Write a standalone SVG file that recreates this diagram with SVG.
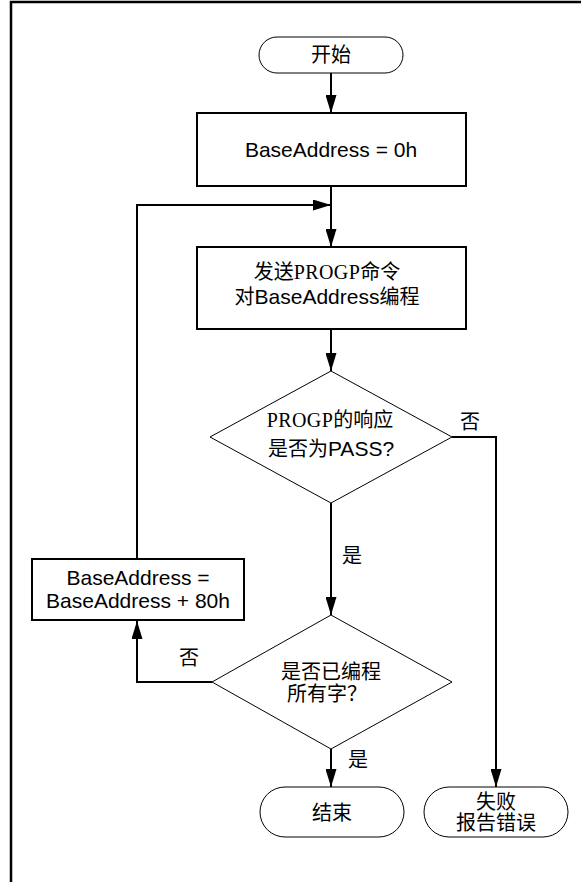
<svg xmlns="http://www.w3.org/2000/svg" width="581" height="882" viewBox="0 0 581 882">
  <style>
    .frame { fill: none; stroke: #000; stroke-width: 2.5; }
    .box { fill: #fff; stroke: #000; stroke-width: 2; }
    .thin { fill: #fff; stroke: #000; stroke-width: 1; }
    .wire { fill: none; stroke: #000; stroke-width: 2; }
    text { fill: #000; text-anchor: middle; }
    .cjk { font-family: "Noto Sans CJK SC", sans-serif; font-size: 20px; }
    .lat { font-family: "Liberation Sans", Arial, "Noto Sans CJK SC", sans-serif; font-size: 21px; }
    .ser { font-family: "Liberation Serif", "Times New Roman", serif; font-size: 20px; letter-spacing: 0.4px; }
  </style>
  <defs>
    <marker id="arrow" markerUnits="userSpaceOnUse" markerWidth="18" markerHeight="11" refX="18" refY="5.5" orient="auto">
      <path d="M0,0 L18,5.5 L0,11 Z" fill="#000"/>
    </marker>
  </defs>

  <!-- page frame: left and top edges, cut off at the right and bottom -->
  <path class="frame" d="M11,882 V2 H581"/>

  <!-- connectors -->
  <g id="connectors">
    <line class="wire" x1="331" y1="73" x2="331" y2="113" marker-end="url(#arrow)"/>
    <line class="wire" x1="331" y1="186" x2="331" y2="247" marker-end="url(#arrow)"/>
    <polyline class="wire" points="137,559 137,205 331,205" marker-end="url(#arrow)"/>
    <line class="wire" x1="331" y1="329" x2="331" y2="371" marker-end="url(#arrow)"/>
    <line class="wire" x1="331" y1="503" x2="331" y2="615" marker-end="url(#arrow)"/>
    <polyline class="wire" points="452,437 496,437 496,787" marker-end="url(#arrow)"/>
    <polyline class="wire" points="212,682 137,682 137,621" marker-end="url(#arrow)"/>
    <line class="wire" x1="331" y1="749" x2="331" y2="787" marker-end="url(#arrow)"/>
    <text class="cjk" x="470" y="429">否</text>
    <text class="cjk" x="352" y="563">是</text>
    <text class="cjk" x="189" y="665">否</text>
    <text class="cjk" x="358" y="767">是</text>
  </g>

  <g id="start">
    <rect class="thin" x="259" y="37" width="144" height="36" rx="18" ry="18"/>
    <text class="cjk" x="331" y="62">开始</text>
  </g>

  <g id="init">
    <rect class="box" x="197" y="113" width="269" height="73"/>
    <text class="lat" x="331" y="157">BaseAddress = 0h</text>
  </g>

  <g id="program">
    <rect class="box" x="197" y="247" width="269" height="82"/>
    <text x="327" y="279"><tspan class="cjk">发送</tspan><tspan class="ser">PROGP</tspan><tspan class="cjk">命令</tspan></text>
    <text x="327" y="304"><tspan class="cjk">对</tspan><tspan class="lat">BaseAddress</tspan><tspan class="cjk">编程</tspan></text>
  </g>

  <g id="check-pass">
    <polygon class="thin" points="331,371 452,437 331,503 210,437"/>
    <text x="330" y="427"><tspan class="ser">PROGP</tspan><tspan class="cjk">的响应</tspan></text>
    <text x="331" y="456"><tspan class="cjk">是否为</tspan><tspan class="lat">PASS?</tspan></text>
  </g>

  <g id="increment">
    <rect class="box" x="32" y="559" width="212" height="61"/>
    <text class="lat" x="138" y="585">BaseAddress =</text>
    <text class="lat" x="138" y="608">BaseAddress + 80h</text>
  </g>

  <g id="check-done">
    <polygon class="thin" points="331,615 452,682 331,749 212,682"/>
    <text class="cjk" x="331" y="679">是否已编程</text>
    <text class="cjk" x="327" y="701">所有字？</text>
  </g>

  <g id="end">
    <rect class="thin" x="260" y="787" width="144" height="50" rx="25" ry="25"/>
    <text class="cjk" x="332" y="820">结束</text>
  </g>

  <g id="fail">
    <rect class="thin" x="424" y="787" width="144" height="50" rx="25" ry="25"/>
    <text class="cjk" x="496" y="809" font-size="19">失败</text>
    <text class="cjk" x="496" y="830" font-size="19">报告错误</text>
  </g>
</svg>
